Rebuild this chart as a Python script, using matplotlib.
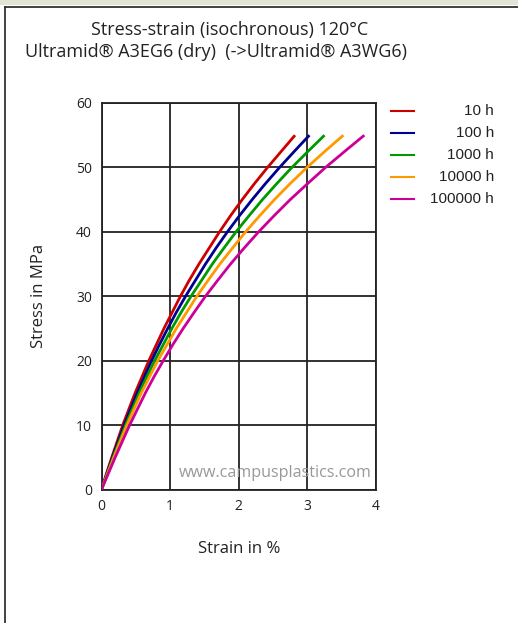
import matplotlib
matplotlib.use('Agg')
import matplotlib.pyplot as plt
from matplotlib.lines import Line2D
from matplotlib.patches import Rectangle

plt.rcParams['font.family'] = ['Open Sans', 'DejaVu Sans']

# stress levels (MPa) and strain (%)
stress = [0, 2.5, 5, 7.5, 10, 12.5, 15, 17.5, 20, 22.5, 25, 27.5,
          30, 32.5, 35, 37.5, 40, 42.5, 45, 47.5, 50, 52.5, 55]
strain_10h = [0, 0.073, 0.15, 0.23, 0.31, 0.40, 0.49, 0.59, 0.69, 0.80, 0.91, 1.03,
              1.15, 1.28, 1.42, 1.57, 1.72, 1.88, 2.05, 2.23, 2.42, 2.62, 2.82]
strain_100h = [0, 0.08, 0.16, 0.245, 0.33, 0.425, 0.52, 0.625, 0.73, 0.845, 0.965, 1.09,
               1.225, 1.37, 1.515, 1.67, 1.835, 2.01, 2.195, 2.39, 2.595, 2.81, 3.03]
strain_1000h = [0, 0.085, 0.17, 0.26, 0.35, 0.45, 0.55, 0.66, 0.775, 0.90, 1.025, 1.16,
                1.305, 1.46, 1.615, 1.785, 1.96, 2.15, 2.345, 2.555, 2.775, 3.01, 3.25]
strain_10000h = [0, 0.09, 0.18, 0.275, 0.37, 0.475, 0.58, 0.70, 0.82, 0.955, 1.09, 1.24,
                 1.39, 1.555, 1.725, 1.91, 2.10, 2.305, 2.52, 2.75, 2.995, 3.255, 3.525]
strain_100000h = [0, 0.10, 0.20, 0.305, 0.41, 0.525, 0.64, 0.765, 0.90, 1.04, 1.19, 1.35,
                  1.515, 1.695, 1.88, 2.08, 2.29, 2.515, 2.75, 3.005, 3.265, 3.545, 3.83]

labels = ['10 h', '100 h', '1000 h', '10000 h', '100000 h']
colors = ['#cc0000', '#000090', '#009900', '#ff9900', '#cc0099']
curves = [strain_10h, strain_100h, strain_1000h, strain_10000h, strain_100000h]

W, H = 518, 623
fig = plt.figure(figsize=(W / 100, H / 100), dpi=100)
ax = fig.add_axes([101.5 / W, 1 - 489.5 / H, (376 - 101.5) / W, (489.5 - 103) / H])

for x, c in zip(curves, colors):
    ax.plot(x, stress, color=c, lw=2.0, solid_capstyle='butt', zorder=3)

ax.set_xlim(0, 4)
ax.set_ylim(0, 60)
ax.set_xticks([0, 1, 2, 3, 4])
ax.set_yticks([0, 10, 20, 30, 40, 50, 60])
ax.grid(True, color='#222222', lw=1.3)
for s in ax.spines.values():
    s.set_color('#222222')
    s.set_linewidth(1.3)
ax.tick_params(length=0, labelsize=10, pad=7, colors='#222222')
ax.set_xlabel('Strain in %', fontsize=12, labelpad=19, color='#222222')
ax.set_ylabel('Stress in MPa', fontsize=12, labelpad=21, color='#222222')

ax.text(0.985, 0.022, 'www.campusplastics.com', transform=ax.transAxes,
        ha='right', va='bottom', fontsize=11.6, color='#999999', zorder=4)

# titles
fig.text(230 / W, 1 - 30 / H, 'Stress-strain (isochronous) 120°C',
         ha='center', va='center', fontsize=13, color='#222222')
fig.text(216 / W, 1 - 52 / H, 'Ultramid® A3EG6 (dry)  (->Ultramid® A3WG6)',
         ha='center', va='center', fontsize=13, color='#222222')

# legend drawn in figure pixels
for i, (lab, c) in enumerate(zip(labels, colors)):
    yy = 1 - (110.7 + 22.1 * i) / H
    fig.add_artist(Line2D([390.5 / W, 414 / W], [yy, yy], color=c, lw=1.5))
    fig.text(494 / W, yy, lab, ha='right', va='center', fontsize=11,
             family=['Liberation Sans', 'DejaVu Sans'], color='#222222')

# frame of the page
fig.add_artist(Rectangle((0, 1 - 5 / H), 1, 5 / H, transform=fig.transFigure,
                         color='#e2e5d3', lw=0))
fig.add_artist(Line2D([5 / W, 1], [1 - 6.7 / H, 1 - 6.7 / H], color='#333333', lw=1.3))
fig.add_artist(Line2D([5 / W, 5 / W], [0, 1 - 6.7 / H], color='#333333', lw=1.3))

fig.savefig('out.png', dpi=100)
